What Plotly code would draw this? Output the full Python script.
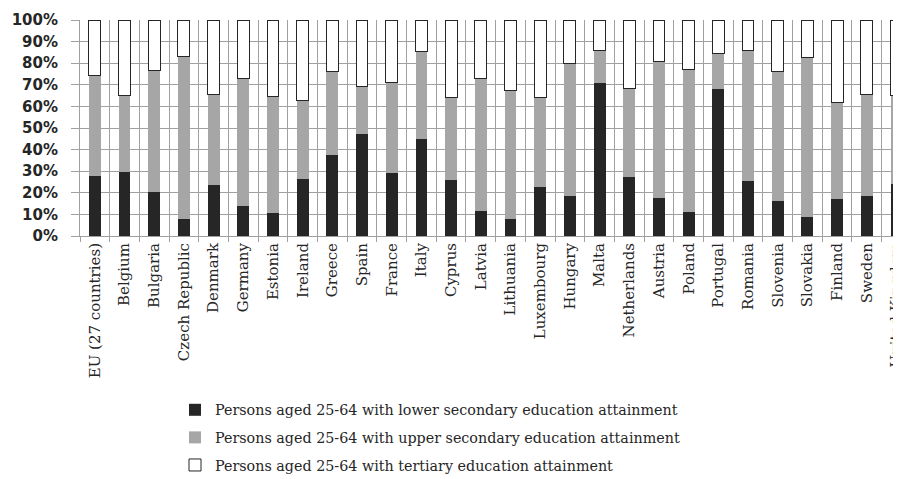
import plotly.graph_objects as go

countries = ["EU (27 countries)", "Belgium", "Bulgaria", "Czech Republic", "Denmark", "Germany",
             "Estonia", "Ireland", "Greece", "Spain", "France", "Italy", "Cyprus", "Latvia",
             "Lithuania", "Luxembourg", "Hungary", "Malta", "Netherlands", "Austria", "Poland",
             "Portugal", "Romania", "Slovenia", "Slovakia", "Finland", "Sweden", "United Kingdom"]

lower = [27.7, 29.5, 20.6, 8.0, 23.5, 14.1, 10.7, 26.6, 37.6, 47.4, 29.1, 45.0, 26.1, 11.6,
         8.0, 22.6, 18.5, 70.9, 27.5, 17.5, 11.0, 67.9, 25.5, 16.4, 9.0, 17.0, 18.5, 24.1]
upper = [46.5, 35.6, 56.1, 75.2, 42.0, 59.0, 53.9, 36.3, 38.6, 21.7, 42.0, 40.2, 38.0, 61.5,
         59.2, 41.5, 61.4, 15.2, 40.7, 63.2, 66.1, 16.6, 60.4, 59.8, 73.5, 44.7, 47.0, 41.0]
tertiary = [25.8, 34.9, 23.3, 16.8, 34.5, 26.9, 35.4, 37.1, 23.8, 30.9, 28.9, 14.8, 35.9, 26.9,
            32.8, 35.9, 20.1, 13.9, 31.8, 19.3, 22.9, 15.5, 14.1, 23.8, 17.5, 38.3, 34.5, 34.9]

series_names = ["Persons aged 25-64 with lower secondary education attainment",
                "Persons aged 25-64 with upper secondary education attainment",
                "Persons aged 25-64 with tertiary education attainment"]

ytick_vals = [0, 10, 20, 30, 40, 50, 60, 70, 80, 90, 100]

serif = "DejaVu Serif"
W, H = 893, 471

fig = go.Figure()
fig.add_trace(go.Bar(x=countries, y=lower, name=series_names[0], legendgroup="a",
                     marker=dict(color="#262626", line=dict(width=0))))
fig.add_trace(go.Bar(x=countries, y=upper, name=series_names[1], legendgroup="b",
                     marker=dict(color="#a6a6a6", line=dict(width=0))))
fig.add_trace(go.Bar(x=countries, y=tertiary, name=series_names[2], legendgroup="c",
                     marker=dict(color="#ffffff", line=dict(color="#262626", width=1))))

fig.update_layout(
    width=W, height=H,
    barmode="stack", bargap=0.6,
    paper_bgcolor="white", plot_bgcolor="white",
    margin=dict(l=72, r=0, t=12, b=243, autoexpand=False),
    legend=dict(
        traceorder="grouped", tracegroupgap=6,
        xref="container", yref="container",
        x=167/W, y=1 - 386/H, xanchor="left", yanchor="top",
        font=dict(family=serif, size=14.3, color="#262626"),
        bgcolor="rgba(0,0,0,0)",
    ),
    showlegend=True,
)

fig.update_xaxes(
    type="category",
    range=[-0.5, -0.5 + (W - 72) / 29.69],
    tickson="boundaries",
    ticks="outside", ticklen=5, tickcolor="#a0a0a0",
    showgrid=True, gridcolor="#a0a0a0", gridwidth=1,
    showline=True, linecolor="#a0a0a0", linewidth=1,
    tickangle=-90,
    automargin=False,
    tickfont=dict(family=serif, size=15, color="#262626"),
)
fig.update_yaxes(
    range=[0, 100],
    tickvals=ytick_vals,
    ticktext=[f"{v}%" for v in ytick_vals],
    ticks="outside", ticklen=8, tickcolor="#a0a0a0",
    showgrid=True, gridcolor="#a0a0a0", gridwidth=1,
    showline=True, linecolor="#a0a0a0", linewidth=1,
    zeroline=False,
    automargin=False,
    ticklabelstandoff=10,
    tickfont=dict(family="DejaVu Sans", size=15, color="#262626", weight="bold"),
)

fig.write_html("out.html")
